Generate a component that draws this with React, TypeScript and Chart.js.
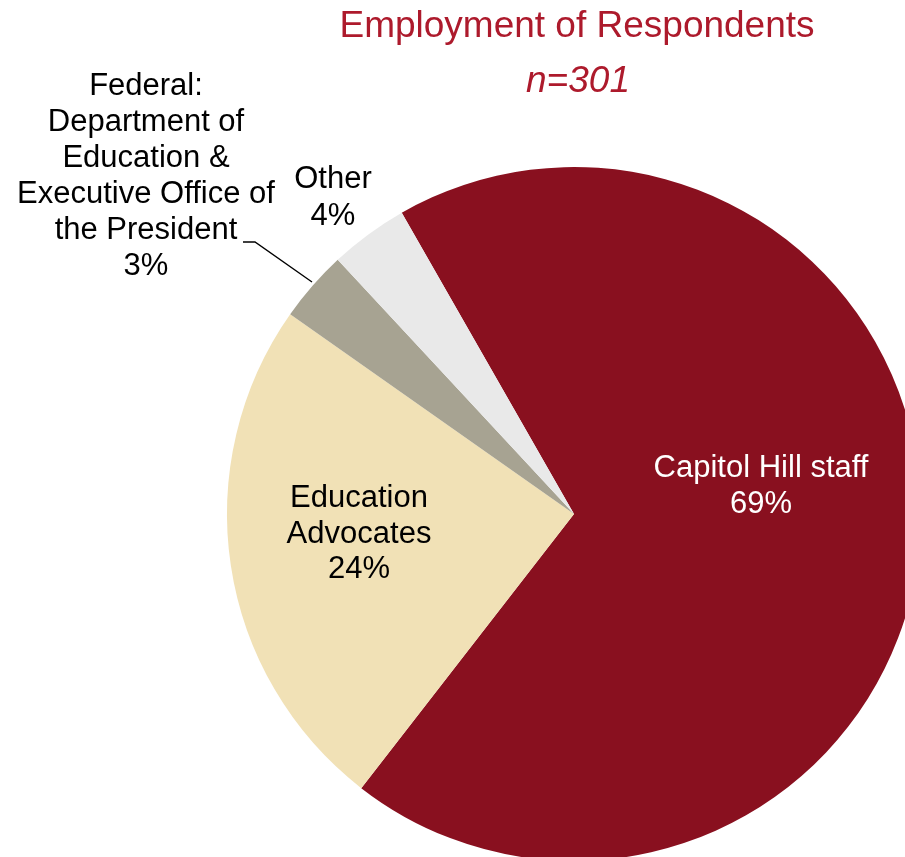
import React, { useEffect, useRef } from "react";
import { Chart, registerables } from "chart.js";

Chart.register(...registerables);

// ---- data ----
const categories = [
  "Capitol Hill staff",
  "Education Advocates",
  "Federal: Department of Education & Executive Office of the President",
  "Other",
];
const labelLines = [
  ["Capitol Hill staff"],
  ["Education", "Advocates"],
  ["Federal:", "Department of", "Education &", "Executive Office of", "the President"],
  ["Other"],
];
const counts = [207, 73, 10, 11];
const sampleSize = 301;
const titleText = "Employment of Respondents";
const subtitleText = "n=301";

// ---- styles ----
const sliceColors = ["#89101F", "#F1E1B6", "#A7A392", "#E9E9E9"];
const labelColors = ["#FFFFFF", "#000000", "#000000", "#000000"];
const titleColor = "#AD1A2C";
const FONT = "'Liberation Sans', Arial, sans-serif";

// label anchors relative to pie centre, in units of the pie radius (ref radius 347)
const REF_R = 347;
const labelAnchors = [
  { dx: 187, dy: -37, lh: 36 },
  { dx: -215, dy: -7, lh: 35.5 },
  { dx: -428, dy: -419, lh: 36 },
  { dx: -241, dy: -326, lh: 37 },
];
const leader = [
  [-331, -272],
  [-319, -272],
  [-262, -232],
];

const textPlugin = {
  id: "textPlugin",
  beforeDraw(chart: any) {
    const ctx = chart.ctx;
    ctx.save();
    ctx.fillStyle = "#FFFFFF";
    ctx.fillRect(0, 0, chart.width, chart.height);
    ctx.restore();
  },
  afterDraw(chart: any) {
    const ctx = chart.ctx;
    const meta = chart.getDatasetMeta(0);
    const a0 = meta.data[0] as any;
    const cx = a0.x;
    const cy = a0.y;
    const s = a0.outerRadius / REF_R;
    ctx.save();
    // title
    ctx.textAlign = "center";
    ctx.textBaseline = "alphabetic";
    ctx.fillStyle = titleColor;
    ctx.font = `37px ${FONT}`;
    ctx.fillText(titleText, cx + 3 * s, 37);
    ctx.font = `italic 37px ${FONT}`;
    ctx.fillText(subtitleText, cx + 4 * s, 92);

    // slice labels
    ctx.font = `31px ${FONT}`;
    counts.forEach((v, i) => {
      const pct = Math.round((v / sampleSize) * 100) + "%";
      const lines = [...labelLines[i], pct];
      const an = labelAnchors[i];
      const x = cx + an.dx * s;
      const y0 = cy + an.dy * s;
      ctx.fillStyle = labelColors[i];
      lines.forEach((ln, k) => {
        ctx.fillText(ln, x, y0 + k * an.lh);
      });
    });

    // leader line for Federal label
    ctx.strokeStyle = "#000000";
    ctx.lineWidth = 1.4;
    ctx.beginPath();
    leader.forEach(([dx, dy], k) => {
      const px = cx + dx * s;
      const py = cy + dy * s;
      if (k === 0) ctx.moveTo(px, py);
      else ctx.lineTo(px, py);
    });
    ctx.stroke();
    ctx.restore();
  },
};

export default function App() {
  const ref = useRef<HTMLCanvasElement | null>(null);
  useEffect(() => {
    if (!ref.current) return;
    const chart = new Chart(ref.current, {
      type: "pie",
      data: {
        labels: categories,
        datasets: [
          {
            data: counts,
            backgroundColor: sliceColors,
            borderWidth: 0,
            clip: false as any,
          } as any,
        ],
      },
      options: {
        responsive: false,
        animation: false,
        rotation: -29.76,
        radius: 347,
        layout: { padding: { left: 243, top: 171, right: 0, bottom: 0 } },
        plugins: {
          legend: { display: false },
          tooltip: { enabled: false },
          title: { display: false },
        },
      } as any,
      plugins: [textPlugin],
    });
    return () => chart.destroy();
  }, []);
  return (
    <div style={{ position: "fixed", left: 0, top: 0, width: 905, height: 857, background: "#fff" }}>
      <canvas ref={ref} width={905} height={857} style={{ display: "block" }} />
    </div>
  );
}
